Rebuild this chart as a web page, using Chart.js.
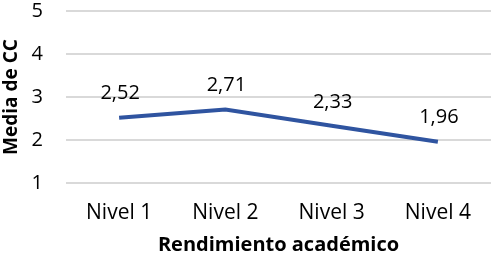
<!DOCTYPE html>
<html>
<head>
<meta charset="utf-8">
<script src="https://cdn.jsdelivr.net/npm/chart.js@4"></script>
<style>
  html, body { margin: 0; padding: 0; background: #fff; }
  #wrap { width: 493px; height: 258px; }
</style>
</head>
<body>
<div id="wrap"><canvas id="chart"></canvas></div>
<script>
const categories = ['Nivel 1', 'Nivel 2', 'Nivel 3', 'Nivel 4'];
const mediaCC = [2.52, 2.71, 2.33, 1.96];
const yTicks = [1, 2, 3, 4, 5];

const FONT = '"Open Sans", sans-serif';

// Etiquetas de valor encima de cada punto (coma decimal)
const valueLabels = {
    id: 'valueLabels',
    afterDatasetsDraw(chart) {
        const { ctx } = chart;
        const meta = chart.getDatasetMeta(0);
        ctx.save();
        ctx.font = '20px ' + FONT;
        ctx.fillStyle = '#000';
        ctx.textAlign = 'center';
        ctx.textBaseline = 'middle';
        meta.data.forEach((pt, i) => {
            const txt = mediaCC[i].toFixed(2).replace('.', ',');
            ctx.fillText(txt, pt.x + 1, pt.y - 24);
        });
        ctx.restore();
    }
};

new Chart(document.getElementById('chart'), {
    type: 'line',
    data: {
        labels: categories,
        datasets: [{
            data: mediaCC,
            borderColor: '#2f54a0',
            borderWidth: 4,
            pointRadius: 0,
            tension: 0,
            fill: false
        }]
    },
    options: {
        responsive: true,
        maintainAspectRatio: false,
        animation: false,
        layout: { padding: { top: 11, right: 2, left: 0, bottom: 0 } },
        plugins: {
            legend: { display: false },
            tooltip: { enabled: false }
        },
        scales: {
            x: {
                offset: true,
                grid: { display: false, drawTicks: false },
                border: { display: false },
                ticks: { color: '#000', font: { size: 21, family: FONT }, padding: 17, maxRotation: 0 },
                title: {
                    display: true,
                    text: 'Rendimiento académico',
                    color: '#000',
                    font: { size: 20, weight: 'bold', family: FONT },
                    padding: { top: 0, bottom: 1 }
                },
                afterFit(axis) {
                    axis.height = 75;
                    axis.paddingLeft = 0;
                    axis.paddingRight = 0;
                }
            },
            y: {
                min: 1,
                max: 5,
                afterBuildTicks(axis) { axis.ticks = yTicks.map(v => ({ value: v })); },
                grid: { color: '#d9d9d9', lineWidth: 2, drawTicks: false },
                border: { display: false },
                ticks: { color: '#000', font: { size: 20, family: FONT }, padding: 23 },
                title: {
                    display: true,
                    text: 'Media de CC',
                    color: '#000',
                    font: { size: 19, weight: 'bold', family: FONT },
                    padding: { top: 0, bottom: 0 }
                },
                afterFit(axis) {
                    axis.width = 66;
                    axis.paddingTop = 0;
                    axis.paddingBottom = 0;
                }
            }
        }
    },
    plugins: [valueLabels]
});
</script>
</body>
</html>
